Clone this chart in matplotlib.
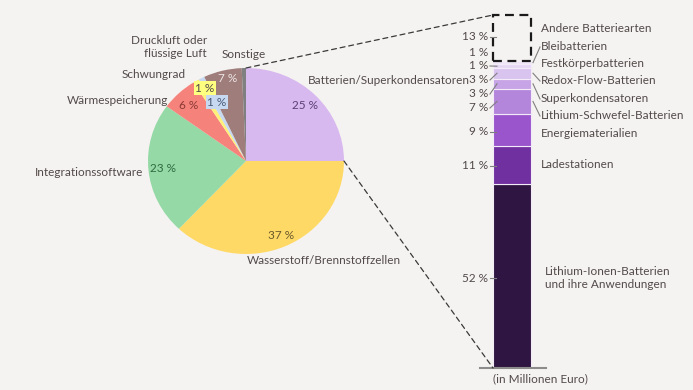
import numpy as np
import matplotlib.pyplot as plt
from matplotlib.patches import ConnectionPatch

# pie data (share of funding, %)
pie_labels = ['Batterien/Superkondensatoren', 'Wasserstoff/Brennstoffzellen', 'Integrationssoftware',
              'Wärmespeicherung', 'Schwungrad', 'Druckluft oder\nflüssige Luft', 'Sonstige', '']
pie_values = [25, 37, 23, 6, 1, 1, 6.3, 0.7]
pie_pct = ['25 %', '37 %', '23 %', '6 %', '1 %', '1 %', '7 %', '']
pie_colors = ['#d8b9ef', '#ffd966', '#95d9a6', '#f5827b', '#fff07a', '#c6d9f1', '#9e7d7b', '#808080']

# bar data (battery part, bottom to top, %)
bar_labels = ['Lithium-Ionen-Batterien\nund ihre Anwendungen', 'Ladestationen', 'Energiematerialien',
              'Lithium-Schwefel-Batterien', 'Superkondensatoren', 'Redox-Flow-Batterien',
              'Festkörperbatterien', 'Bleibatterien', 'Andere Batteriearten']
bar_values = [52, 11, 9, 7, 3, 3, 1, 1, 13]
bar_colors = ['#2f1541', '#7030a0', '#9a55cc', '#b386db', '#c7a4e6', '#d9c3ef', '#e6d8f4', '#efe7f8', 'none']

bg = '#f5f3f1'
txt = '#524a4a'
plt.rcParams['font.family'] = ['Lato', 'DejaVu Sans']

W, H = 693, 390
fig = plt.figure(figsize=(W / 100, H / 100), dpi=100, facecolor=bg)

def fx(x):
    return x / W

def fy(y):
    return 1 - y / H

# ---- pie ----
cx, cy = 246, 161
rx, ry = 98, 93
axp = fig.add_axes([fx(cx - rx * 1.05), fy(cy + ry * 1.05), 2.1 * rx / W, 2.1 * ry / H])
wedges, _ = axp.pie(pie_values, colors=pie_colors, startangle=90, counterclock=False,
                    radius=1, wedgeprops=dict(linewidth=0))
axp.set_aspect('auto')
axp.set_xlim(-1.05, 1.05)
axp.set_ylim(-1.05, 1.05)
axp.set_facecolor('none')

# percentage labels inside pie (pixel positions)
pct_pos = [(305, 106), (281, 236), (163, 168), (189, 106), (205, 88), (217, 102), (228, 78)]
pct_col = ['#5a3f75', '#6a5a2a', '#2f6b40', '#8b3a35', txt, '#4a5a78', '#eee6e6']
for i, (x, y) in enumerate(pct_pos):
    bbox = None
    if i == 4:
        bbox = dict(boxstyle='square,pad=0.1', fc='#ffff80', ec='none')
    if i == 5:
        bbox = dict(boxstyle='square,pad=0.1', fc='#c6d9f1', ec='none')
    fig.text(fx(x), fy(y), pie_pct[i], ha='center', va='center', fontsize=8.5,
             color=pct_col[i], bbox=bbox)

# category labels around pie
lab_pos = [(308, 80, 'left'), (247, 260, 'left'), (143, 172, 'right'), (168, 101, 'right'),
           (186, 75, 'right'), (207, 47, 'right'), (222, 54, 'left')]
for i, (x, y, ha) in enumerate(lab_pos):
    fig.text(fx(x), fy(y), pie_labels[i], ha=ha, va='center', fontsize=8.5, color=txt,
             linespacing=1.25, multialignment='right' if ha == 'right' else 'left')

# ---- stacked bar ----
bl, bb = 470, 368
axb = fig.add_axes([fx(bl), fy(bb), 86 / W, (bb - 15) / H])
axb.set_xlim(0, 86)
axb.set_ylim(0, 100)
axb.axis('off')
cum = np.concatenate([[0], np.cumsum(bar_values)[:-1]])
for v, b, c in zip(bar_values, cum, bar_colors):
    if c == 'none':
        axb.bar(42, v, bottom=b, width=38, fill=False, edgecolor='#1a1a1a', linestyle=(0, (4, 2.5)),
                linewidth=1.6, clip_on=False)
    else:
        axb.bar(42, v, bottom=b, width=38, color=c, edgecolor='#f3ecf8', linewidth=0.8)
axb.plot([10, 76], [0, 0], color='#8c8c8c', lw=1.5, clip_on=False)

def py(y):
    return (bb - y) / 3.53

mids = cum + np.array(bar_values) / 2
left_y = [278, 166, 132, 108, 94, 80, 66, 52, 37]
for i, y in enumerate(left_y):
    axb.text(18, py(y), f'{bar_values[i]} %', ha='right', va='center', fontsize=8.5, color=txt)
    if i in (0, 1, 2, 8):
        axb.plot([20, 26], [py(y), py(y)], color='#7f7f7f', lw=0.8)
    elif i != 7:
        axb.plot([20, 27], [py(y), mids[i]], color='#7f7f7f', lw=0.8)

right_y = [278, 165, 134, 116, 99, 81, 64, 47, 29]
for i, y in enumerate(right_y):
    x = 75 if i == 0 else 71
    axb.text(x, py(y), bar_labels[i], ha='left', va='center', fontsize=8.5, color=txt,
             linespacing=1.3)
    if i in (3, 4, 5, 7):
        axb.plot([63, 70], [mids[i], py(y)], color='#7f7f7f', lw=0.8)

axb.text(23, py(379), '(in Millionen Euro)', ha='left', va='center', fontsize=8.5, color=txt,
         clip_on=False)

# connector lines from pie to bar
for (xa, ya), (xb, yb) in [((0.0, 1.0), (23, 100)), ((1.0, 0.0), (23, 0))]:
    con = ConnectionPatch(xyA=(xa, ya), coordsA=axp.transData, xyB=(xb, yb), coordsB=axb.transData,
                          color='#3a3a3a', lw=0.9, linestyle=(0, (4, 3)))
    fig.add_artist(con)

fig.savefig('out.png', dpi=100, facecolor=bg)
